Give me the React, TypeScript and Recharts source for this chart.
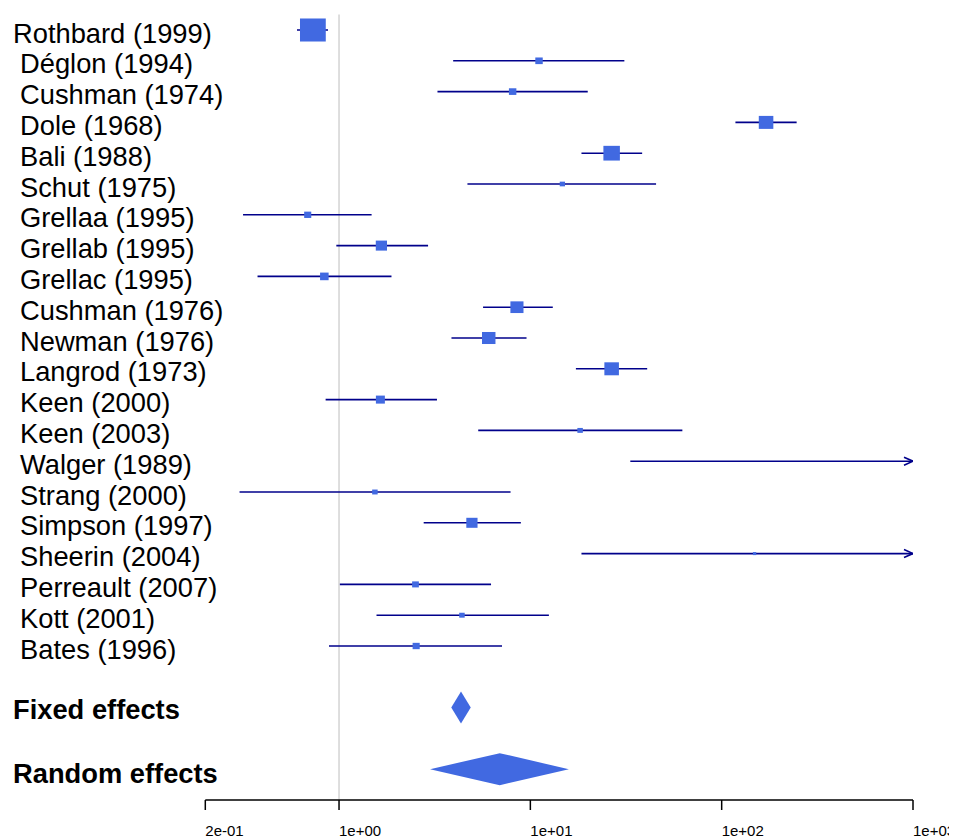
import React from "react";
import { Area, ComposedChart, ErrorBar, ReferenceLine, Scatter, XAxis, YAxis } from "recharts";

// study rows, top to bottom
const studies = [
  "Rothbard (1999)",
  "Déglon (1994)",
  "Cushman (1974)",
  "Dole (1968)",
  "Bali (1988)",
  "Schut (1975)",
  "Grellaa (1995)",
  "Grellab (1995)",
  "Grellac (1995)",
  "Cushman (1976)",
  "Newman (1976)",
  "Langrod (1973)",
  "Keen (2000)",
  "Keen (2003)",
  "Walger (1989)",
  "Strang (2000)",
  "Simpson (1997)",
  "Sheerin (2004)",
  "Perreault (2007)",
  "Kott (2001)",
  "Bates (1996)"
];
const estimate = [0.73, 11.1, 8.08, 170.6, 26.6, 14.7, 0.686, 1.665, 0.838, 8.51, 6.06, 26.6, 1.645, 18.2, 1500, 1.54, 4.95, 148.6, 2.51, 4.39, 2.53];
const lower = [0.603, 3.95, 3.27, 118, 18.5, 4.69, 0.315, 0.968, 0.375, 5.66, 3.87, 17.3, 0.851, 5.34, 33.3, 0.302, 2.77, 18.5, 1.01, 1.57, 0.886];
const upper = [0.876, 31.0, 19.95, 246.5, 38.4, 45.4, 1.48, 2.92, 1.88, 13.1, 9.55, 40.8, 3.25, 62.3, 67500, 7.88, 8.92, 1193, 6.23, 12.5, 7.11];
const weight = [26.4, 2.2, 2.2, 8.4, 10.8, 1.1, 2.0, 5.0, 2.9, 6.8, 7.2, 8.4, 3.2, 1.2, 0.2, 1.2, 5.0, 0.45, 1.8, 1.2, 2.0];

const pooledLabels = ["Fixed effects", "Random effects"];
const pooledEstimate = [4.34, 6.92];
const pooledLower = [3.86, 2.99];
const pooledUpper = [4.88, 15.9];

const xTicks = [0.2, 1, 10, 100, 1000];

const X_MIN = 0.2;
const X_MAX = 1000;
const POOLED_ROWS = [22, 24];
const DIAMOND_HALF = 0.52;
const BOX_PX = 4.48;
const LINE = "#00008B";
const FILL = "#4169E1";
const FONT = "'Liberation Sans', Arial, sans-serif";

// intervals running past the axis are cut at its end and get an arrow
const studyRows = studies.map((name, i) => ({
  name,
  x: estimate[i],
  y: i,
  w: weight[i],
  err: [estimate[i] - lower[i], Math.min(upper[i], X_MAX) - estimate[i]]
}));

const arrowRows = studies
  .map((_, i) => i)
  .filter((i) => upper[i] > X_MAX)
  .map((i) => ({ x: X_MAX, y: i }));

const diamonds = pooledLabels.map((_, j) => {
  const r = POOLED_ROWS[j];
  return [
    { x: pooledLower[j], band: [r, r] },
    { x: pooledEstimate[j], band: [r - DIAMOND_HALF, r + DIAMOND_HALF] },
    { x: pooledUpper[j], band: [r, r] }
  ];
});

function fmtExp(v: number) {
  const [m, e] = v.toExponential(0).split("e");
  const sign = e.startsWith("-") ? "-" : "+";
  const digits = e.replace(/[+-]/, "").padStart(2, "0");
  return `${m}e${sign}${digits}`;
}

function Box(props: any) {
  const { cx, cy, payload } = props;
  if (cx == null || cy == null || payload.x > X_MAX) return null;
  const h = BOX_PX * Math.sqrt(payload.w);
  const w = h * 1.12;
  return <rect x={cx - w / 2} y={cy - h / 2} width={w} height={h} fill={FILL} />;
}

function Arrow(props: any) {
  const { cx, cy } = props;
  if (cx == null || cy == null) return null;
  return (
    <path
      d={`M${cx - 9},${cy - 4} L${cx},${cy} L${cx - 9},${cy + 4}`}
      fill="none"
      stroke={LINE}
      strokeWidth={1.6}
    />
  );
}

function RowLabel(props: any) {
  const { y, payload } = props;
  const v = payload.value;
  const p = POOLED_ROWS.indexOf(v);
  const text = p >= 0 ? pooledLabels[p] : studies[v];
  const x = p >= 0 || v === 0 ? 5 : 12;
  const dy = p === 0 ? 11.5 : p === 1 ? 13.5 : 12.5;
  return (
    <text x={x} y={y + dy} fontSize={27.3} fontWeight={p >= 0 ? "bold" : "normal"} fill="#000" textAnchor="start" fontFamily={FONT}>
      {text}
    </text>
  );
}

function AxisTick(props: any) {
  const { x, y, payload } = props;
  return (
    <text x={x} y={y + 24} fontSize={15} fill="#000" textAnchor="start" fontFamily={FONT}>
      {fmtExp(payload.value)}
    </text>
  );
}

export default function App() {
  const yTicks = [...studies.map((_, i) => i), ...POOLED_ROWS];
  return (
    <div style={{ fontFamily: FONT }}>
      <ComposedChart width={949} height={831} margin={{ top: 6.6, right: 44, bottom: 8, left: 0 }}>
        <XAxis
          type="number"
          dataKey="x"
          scale="log"
          domain={[X_MIN, X_MAX]}
          allowDataOverflow
          ticks={xTicks}
          interval={0}
          height={31}
          tickSize={10}
          axisLine={{ stroke: "#000", strokeWidth: 1.5 }}
          tickLine={{ stroke: "#000", strokeWidth: 1.5 }}
          tick={AxisTick}
        />
        <YAxis
          type="number"
          dataKey="y"
          reversed
          domain={[-0.5, 25]}
          allowDataOverflow
          ticks={yTicks}
          interval={0}
          width={197.3}
          axisLine={false}
          tickLine={false}
          tick={RowLabel}
        />
        <ReferenceLine x={1} stroke="#D3D3D3" strokeWidth={1.5} />
        <Scatter data={studyRows} shape={Box} isAnimationActive={false}>
          <ErrorBar dataKey="err" direction="x" width={0} stroke={LINE} strokeWidth={1.6} />
        </Scatter>
        <Scatter data={arrowRows} shape={Arrow} isAnimationActive={false} />
        {diamonds.map((d, j) => (
          <Area
            key={pooledLabels[j]}
            data={d}
            dataKey="band"
            type="linear"
            stroke="none"
            fill={FILL}
            fillOpacity={1}
            dot={false}
            activeDot={false}
            isAnimationActive={false}
          />
        ))}
      </ComposedChart>
    </div>
  );
}
